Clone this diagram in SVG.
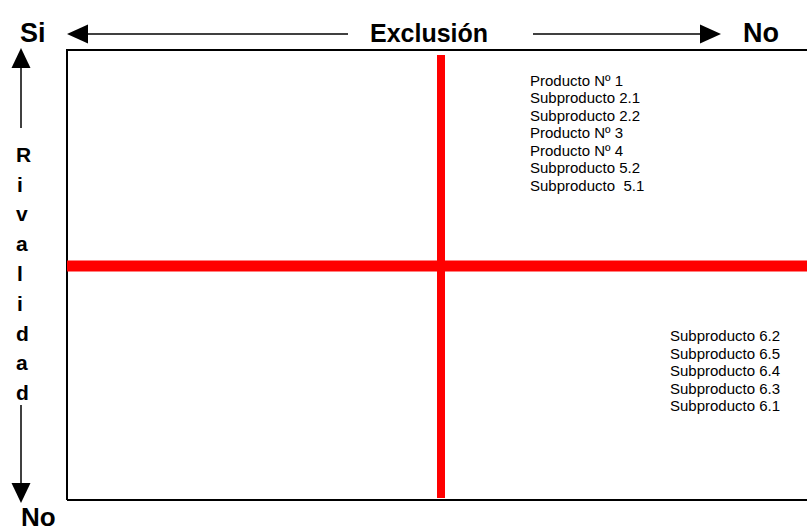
<svg xmlns="http://www.w3.org/2000/svg" width="807" height="532" viewBox="0 0 807 532">
<style>
.big{font-family:"Liberation Sans",Arial,sans-serif;font-weight:bold;fill:#000}
.sm{font-family:"Liberation Sans",Arial,sans-serif;font-size:15px;fill:#000}
.ax{stroke:#000;stroke-width:1.5;fill:none}
.red{stroke:#FF0000;fill:none}
</style>
<rect width="807" height="532" fill="#fff"/>
<g id="frame">
<path d="M67,500 L67,50 L807,50" stroke="#000" stroke-width="2" fill="none"/>
<path d="M67,500 L807,500" stroke="#000" stroke-width="2" fill="none"/>
</g>
<g id="connectors">
<line class="ax" x1="86" y1="34" x2="348" y2="34"/>
<polygon points="67,34 88,24.5 88,43.5" fill="#000"/>
<line class="ax" x1="533" y1="34" x2="702" y2="34"/>
<polygon points="721,34 700,24.5 700,43.5" fill="#000"/>
<line class="ax" x1="21" y1="66" x2="21" y2="128"/>
<polygon points="21,48 11.5,68 30.5,68" fill="#000"/>
<line class="ax" x1="21" y1="405" x2="21" y2="485"/>
<polygon points="21,503 11.5,483 30.5,483" fill="#000"/>
<line class="red" x1="67" y1="266" x2="807" y2="266" stroke-width="11"/>
<line class="red" x1="441" y1="55" x2="441" y2="498" stroke-width="8"/>
</g>
<g id="labels">
<text class="big" x="20" y="42" font-size="27">Si</text>
<text class="big" x="370" y="42" font-size="25">Exclusión</text>
<text class="big" x="743" y="42" font-size="27">No</text>
<text class="big" x="21" y="526" font-size="26">No</text>
</g>
<g id="rivalidad" class="big" font-size="21">
<text x="16" y="162">R</text>
<text x="17" y="192">i</text>
<text x="16" y="221">v</text>
<text x="16" y="251">a</text>
<text x="17" y="281">l</text>
<text x="17" y="311">i</text>
<text x="16" y="341">d</text>
<text x="16" y="370">a</text>
<text x="16" y="400">d</text>
</g>
<g id="q1" class="sm">
<text x="530" y="85.5">Producto Nº 1</text>
<text x="530" y="103">Subproducto 2.1</text>
<text x="530" y="120.5">Subproducto 2.2</text>
<text x="530" y="138">Producto Nº 3</text>
<text x="530" y="155.5">Producto Nº 4</text>
<text x="530" y="173">Subproducto 5.2</text>
<text x="530" y="190.5" xml:space="preserve">Subproducto  5.1</text>
</g>
<g id="q4" class="sm">
<text x="670" y="341">Subproducto 6.2</text>
<text x="670" y="358.5">Subproducto 6.5</text>
<text x="670" y="376">Subproducto 6.4</text>
<text x="670" y="393.5">Subproducto 6.3</text>
<text x="670" y="411">Subproducto 6.1</text>
</g>
</svg>
